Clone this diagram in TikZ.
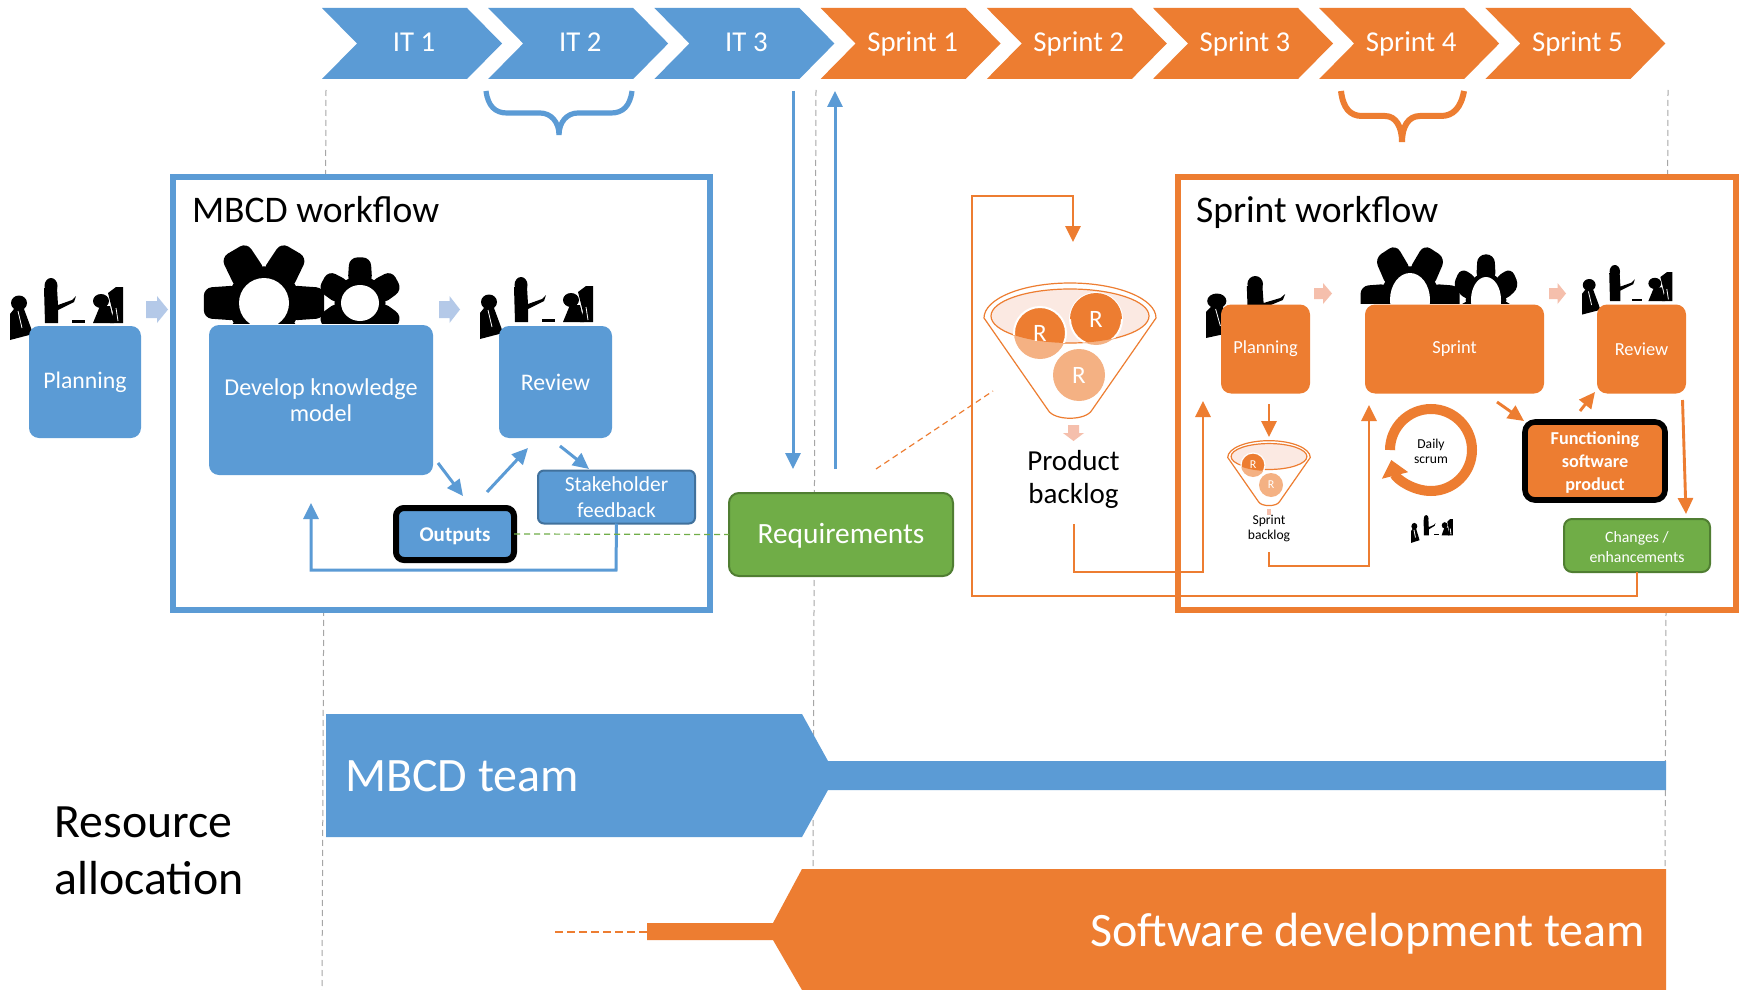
\documentclass[tikz,border=0pt]{standalone}
\usepackage{fontspec}
\setmainfont{Carlito}
\usetikzlibrary{arrows.meta,calc}
\definecolor{cblue}{HTML}{5B9BD5}
\definecolor{cbluedark}{HTML}{41719C}
\definecolor{corange}{HTML}{ED7D31}
\definecolor{cgreen}{HTML}{70AD47}
\definecolor{cgreendark}{HTML}{507E32}
\definecolor{clblue}{HTML}{B4C9E8}
\definecolor{clorange}{HTML}{F5BFAC}
\definecolor{cball}{HTML}{F4B183}
\definecolor{cinner}{HTML}{FBE9E2}
\definecolor{cgray}{HTML}{A6A6A6}
\tikzset{
  every node/.style={inner sep=0pt,outer sep=0pt,align=center},
  boxb/.style={fill=cblue,rounded corners=5pt,text=white},
  boxo/.style={fill=corange,rounded corners=5pt,text=white},
  boxg/.style={fill=cgreen,draw=cgreendark,line width=1pt,rounded corners=5pt,text=white},
  blueline/.style={draw=cblue,line width=1.5pt,-{Triangle[length=8pt,width=7.5pt]}},
  orangeline/.style={draw=corange,line width=1.45pt,-{Triangle[length=8pt,width=7.5pt]}},
  guide/.style={draw=cgray,line width=.5pt,dash pattern=on 3pt off 2pt},
  chevtext/.style={anchor=base,text=white,font=\fontsize{14.4}{16}\selectfont},
  titletext/.style={anchor=base west,font=\fontsize{18.8}{20}\selectfont},
  ballR/.style={text=white,font=\fontsize{12.5}{14}\selectfont},
}
\newcommand\chev[4]{%
  \fill[#2] (#1,8) -- ++(145,0) -- ++(35,35.5) -- ++(-35,35.5) -- ++(-145,0) -- ++(35,-35.5) -- cycle;
  \node[chevtext] (#4) at (#1+92,52) {#3};
}
\newcommand\blockr[5]{% x1 x2 y1 y2 colour
  \fill[#5] (#1,{#3+5}) -- ({(#1+#2)/2},{#3+5}) -- ({(#1+#2)/2},#3) -- (#2,{(#3+#4)/2}) -- ({(#1+#2)/2},#4) -- ({(#1+#2)/2},{#4-5}) -- (#1,{#4-5}) -- cycle;
}
\newcommand\gearshape[8]{%
  \begin{scope}
  \clip (0,0) rectangle (1746,#8);
  \begin{scope}[shift={(#1,#2)}]
  \pgfmathsetmacro\gax{.58*#3}\pgfmathsetmacro\gay{.58*#4}
  \pgfmathsetmacro\gbx{.5*#3}\pgfmathsetmacro\gby{.5*#4}
  \fill[black] (0,0) circle[x radius=\gax,y radius=\gay];
  \foreach \ga in {0,60,...,300}{
    \pgfmathsetmacro\gt{\ga+#7}
    \fill[black,rounded corners=4pt] (\gt-34:\gbx*1 and \gby*1) -- (\gt-14:#3 and #4) -- (\gt+14:#3 and #4) -- (\gt+34:\gbx*1 and \gby*1) -- cycle;
  }
  \fill[white] (0,0) circle[x radius=#5,y radius=#6];
  \end{scope}
  \end{scope}
}
\newcommand\people[4]{%
  \begin{scope}[shift={(#1,#2)},xscale=#3,yscale=#4]
  \fill[black] (9,25) circle[x radius=8,y radius=7.5];
  \fill[black] (0,62) -- (0,36) -- (4,31) -- (14,31) -- (21,50) -- (23,56) -- cycle;
  \draw[white,line width=.4pt] (8,33) -- (12,50);
  \fill[black] (41,8) circle[x radius=6.5,y radius=8];
  \fill[black] (34,10) -- (47,10) -- (48,27) -- (62,22) -- (66,18) -- (64,24) -- (48,32) -- (48,45) -- (35,45) -- cycle;
  \fill[black] (62,42) rectangle (75,45);
  \fill[black] (91,23) circle[x radius=8,y radius=7];
  \fill[black] (83,45) -- (90,28) -- (100,28) -- (104,45) -- cycle;
  \fill[black] (98,15) -- (106,9) -- (113,9) -- (113,45) -- (100,45) -- (103,35) -- cycle;
  \draw[white,line width=.4pt] (106,30) -- (108,43);
  \end{scope}
}
\newcommand\funnel[4]{%
  \begin{scope}[shift={(#1,#2)},scale=#3]
  \fill[cinner] (0,-1) circle[x radius=79,y radius=27];
  \draw[corange,line width=#4,fill=none] (-86,1) arc[start angle=180,end angle=360,x radius=86,y radius=35]
     -- (22,93) .. controls (16,104) and (-16,104) .. (-22,93) -- cycle;
  \draw[corange,line width=#4] (0,-1) circle[x radius=79,y radius=27];
  \end{scope}
}
\begin{document}
\begin{tikzpicture}[x=.5pt,y=-.5pt]
\useasboundingbox (0,0) rectangle (1746,990);
\fill[white] (0,0) rectangle (1746,990);
% guides
\coordinate (gla) at (326,90); \coordinate (glb) at (322,990);
\coordinate (gma) at (816,90); \coordinate (gmb) at (813,870);
\coordinate (gra) at (1668,90); \coordinate (grb) at (1665,870);
\draw[guide] (gla) -- (glb);
\draw[guide] (gma) -- (gmb);
\draw[guide] (gra) -- (grb);
% chevrons
\chev{322}{cblue}{IT 1}{it1}
\chev{488.2}{cblue}{IT 2}{it2}
\chev{654.4}{cblue}{IT 3}{it3}
\chev{820.6}{corange}{Sprint 1}{s1}
\chev{986.8}{corange}{Sprint 2}{s2}
\chev{1153}{corange}{Sprint 3}{s3}
\chev{1319.2}{corange}{Sprint 4}{s4}
\chev{1485.4}{corange}{Sprint 5}{s5}
% braces
\draw[cblue,line width=2.6pt] (486,91) .. controls (488,106) and (495,113) .. (507,113) -- (540,113) .. controls (551,113) and (559,122) .. (559,135) .. controls (559,122) and (567,113) .. (578,113) -- (611,113) .. controls (623,113) and (630,106) .. (632,91);
\draw[corange,line width=3pt] (1341,91) .. controls (1343,108) and (1350,116) .. (1362,116) -- (1385,116) .. controls (1396,116) and (1402,127) .. (1402,142) .. controls (1402,127) and (1408,116) .. (1420,116) -- (1441,116) .. controls (1453,116) and (1461,108) .. (1464,91);
% frames
\draw[cblue,line width=3pt,fill=white] (173,177) rectangle (710,610);
\draw[corange,line width=3pt,fill=white] (1178,177) rectangle (1736,610);
\node[titletext] (mbcdt) at (192,222) {MBCD workflow};
\node[titletext] (sprt) at (1196,222) {Sprint workflow};
% silhouettes and gears
\people{10}{278}{1}{1}
\people{480}{277}{1}{1}
\gearshape{264}{303}{62}{63}{25}{25}{0}{323}
\gearshape{360}{303}{44}{47}{19}{18}{30}{323}
\begin{scope}
\clip (1190,260) rectangle (1292,345);
\people{1206}{276}{1.2}{1}
\end{scope}
\people{1582}{265}{.8}{.8}
\gearshape{1410}{300}{51}{58}{20}{27}{0}{303}
\gearshape{1486}{300}{35}{47}{15}{23}{30}{303}
\people{1411}{515}{.37}{.45}
% block arrows
\blockr{146}{168}{296}{323}{clblue}
\blockr{439}{460}{296}{323}{clblue}
\blockr{1314}{1332}{283}{304}{clorange}
\blockr{1549}{1566}{283}{304}{clorange}
\fill[clorange] (1068,425) -- (1079,425) -- (1079,433) -- (1084,433) -- (1073.5,441) -- (1063,433) -- (1068,433) -- cycle;
\fill[clorange] (1267,509) rectangle (1271,515);
% blue boxes
\node[boxb,minimum width=56pt,minimum height=56pt,font=\fontsize{11.9}{13}\selectfont] (bplan) at (85,382) {Planning};
\node[boxb,minimum width=112pt,minimum height=75pt,font=\fontsize{12.1}{13}\selectfont] (bdev) at (321,400) {Develop knowledge\\model};
\node[boxb,minimum width=56.5pt,minimum height=56pt,font=\fontsize{11.9}{13}\selectfont] (brev) at (555.5,382) {Review};
\node[boxb,draw=cbluedark,line width=1pt,rounded corners=3pt,minimum width=78.5pt,minimum height=26.5pt,font=\fontsize{10.7}{12.7}\selectfont] (bstake) at (616.5,497) {Stakeholder\\feedback};
\node[boxb,draw=black,line width=3pt,rounded corners=4pt,minimum width=59pt,minimum height=26pt,text height=9.1pt,text depth=2.1pt,font=\bfseries\fontsize{10.5}{12}\selectfont] (bout) at (455,534) {Outputs};
% requirements
\node[boxg,minimum width=112pt,minimum height=41.5pt,text height=12.2pt,text depth=2.9pt,font=\fontsize{14.7}{16}\selectfont] (req) at (841,534.5) {Requirements};
% blue connectors
\coordinate (a1s) at (438,463); \coordinate (a1e) at (463,496);
\coordinate (a2s) at (487,492); \coordinate (a2e) at (528,448);
\coordinate (a3s) at (560,446); \coordinate (a3e) at (589,469);
\coordinate (a4e) at (311,503);
\coordinate (rdt) at (793,91); \coordinate (rde) at (793,469);
\coordinate (rub) at (835,469); \coordinate (rut) at (835,91);
\path[blueline] (a1s) -- (a1e);
\path[blueline] (a2s) -- (a2e);
\path[blueline] (a3s) -- (a3e);
\path[blueline] (bstake.south) -- (616,570) -| (a4e);
\path[blueline] (rdt) -- (rde);
\path[blueline] (rub) -- (rut);
\draw[cgreen,line width=.6pt,dash pattern=on 3pt off 2pt] (bout.east) -- (req.west);
% product backlog
\funnel{1070}{317}{1}{.6pt}
\fill[cball] (1079,375) circle[radius=26];
\fill[cball] (1040,333) circle[radius=26];
\fill[cball] (1096,319) circle[radius=26];
\begin{scope}
\clip (1070,316) circle[x radius=79,y radius=27];
\filldraw[fill=corange,draw=white,line width=1pt] (1040,333) circle[radius=26];
\filldraw[fill=corange,draw=white,line width=1pt] (1096,319) circle[radius=26];
\end{scope}
\fill[corange] (1096,319) ++(-26,0) arc[start angle=180,end angle=360,radius=26];
\node[ballR] (ra) at (1040,333) {R};
\node[ballR] (rb) at (1096,319) {R};
\node[ballR] (rc) at (1079,375) {R};
\node[font=\fontsize{14.5}{16.2}\selectfont] (pback) at (1073.5,479.5) {Product\\backlog};
\coordinate (odash1) at (876,469); \coordinate (odash2) at (993,391);
\draw[corange,line width=.6pt,dash pattern=on 3pt off 2pt] (odash1) -- (odash2);
% sprint backlog
\funnel{1269}{457}{.48}{.6pt}
\fill[cball] (1253,465) circle[radius=12];
\fill[cball] (1271,485) circle[radius=12];
\begin{scope}
\clip (1269,457.5) circle[x radius=37.5,y radius=13.5];
\filldraw[fill=corange,draw=white,line width=.6pt] (1253,465) circle[radius=12];
\end{scope}
\node[text=white,font=\fontsize{6}{7}\selectfont] (rd) at (1253,465) {R};
\node[text=white,font=\fontsize{6}{7}\selectfont] (re) at (1271,485) {R};
\node[font=\fontsize{6.8}{7.6}\selectfont] (sback) at (1269,528.5) {Sprint\\backlog};
% orange boxes
\node[boxo,minimum width=44.5pt,minimum height=44.5pt,font=\fontsize{9.2}{11}\selectfont] (oplan) at (1265.5,349) {Planning};
\node[boxo,minimum width=89.5pt,minimum height=44.5pt,font=\fontsize{9.2}{11}\selectfont] (osprint) at (1454.5,349) {Sprint};
\node[boxo,minimum width=44.5pt,minimum height=44.5pt,font=\fontsize{9.2}{11}\selectfont] (orev) at (1641.5,349) {Review};
\node[boxo,draw=black,line width=2.8pt,rounded corners=5pt,minimum width=70pt,minimum height=39pt,font=\bfseries\fontsize{9.1}{11.4}\selectfont] (ofunc) at (1595,461) {\rule{0pt}{8.2pt}Functioning\\software\\product};
\node[boxg,rounded corners=4pt,minimum width=73pt,minimum height=26.5pt,font=\fontsize{7.9}{10}\selectfont] (ochg) at (1637,545.5) {\rule{0pt}{7.4pt}Changes /\\enhancements};
% daily scrum
\coordinate (dsc) at (1431,451);
\draw[corange,line width=5pt,-{Triangle[length=8pt,width=13pt]}] (1390,450) arc[start angle=180,end angle=526,radius=41];
\node[font=\fontsize{6.8}{7.6}\selectfont] (dscrum) at (dsc) {Daily\\scrum};
% orange connectors
\coordinate (l1e) at (1073,242);
\coordinate (l2e) at (1203,401);
\coordinate (l2s) at (1074,524);
\coordinate (p1s) at (1269,404); \coordinate (p1e) at (1269,437);
\coordinate (p2s) at (1269,552); \coordinate (p2e) at (1369,405);
\coordinate (q1s) at (1497,402); \coordinate (q1e) at (1524,421);
\coordinate (q2s) at (1580,411); \coordinate (q2e) at (1595,392);
\coordinate (q3s) at (1682.5,400); \coordinate (q3e) at (1686,514);
\path[orangeline] (ochg.south) -- (1637,596) -- (972,596) -- (972,196) -- (1073,196) -- (l1e);
\path[orangeline] (l2s) -- (1074,572) -- (1203,572) -- (l2e);
\path[orangeline] (p1s) -- (p1e);
\path[orangeline] (p2s) -- (1269,566) -- (1369,566) -- (p2e);
\path[orangeline] (q1s) -- (q1e);
\path[orangeline] (q2s) -- (q2e);
\path[orangeline] (q3s) -- (q3e);
% resource allocation
\fill[cblue] (326,714) -- (802,714) -- (828,761) -- (1666,761) -- (1666,790) -- (828,790) -- (802,837) -- (326,837) -- cycle;
\fill[corange] (1666,869) -- (802,869) -- (773,923) -- (647,923) -- (647,940) -- (773,940) -- (802,990) -- (1666,990) -- cycle;
\coordinate (tdash) at (555,932); \coordinate (tdashe) at (647,932);
\draw[corange,line width=1pt,dash pattern=on 4pt off 2pt] (tdash) -- (tdashe);
\node[anchor=west,text=white,font=\fontsize{24}{26}\selectfont] (mteam) at (345,776) {MBCD team};
\node[anchor=east,text=white,font=\fontsize{24}{26}\selectfont] (steam) at (1645,934) {Software development team};
\node[anchor=west,align=left,font=\fontsize{23.9}{28.5}\selectfont] (res) at (54.5,851) {Resource\\allocation};
\end{tikzpicture}
\end{document}
